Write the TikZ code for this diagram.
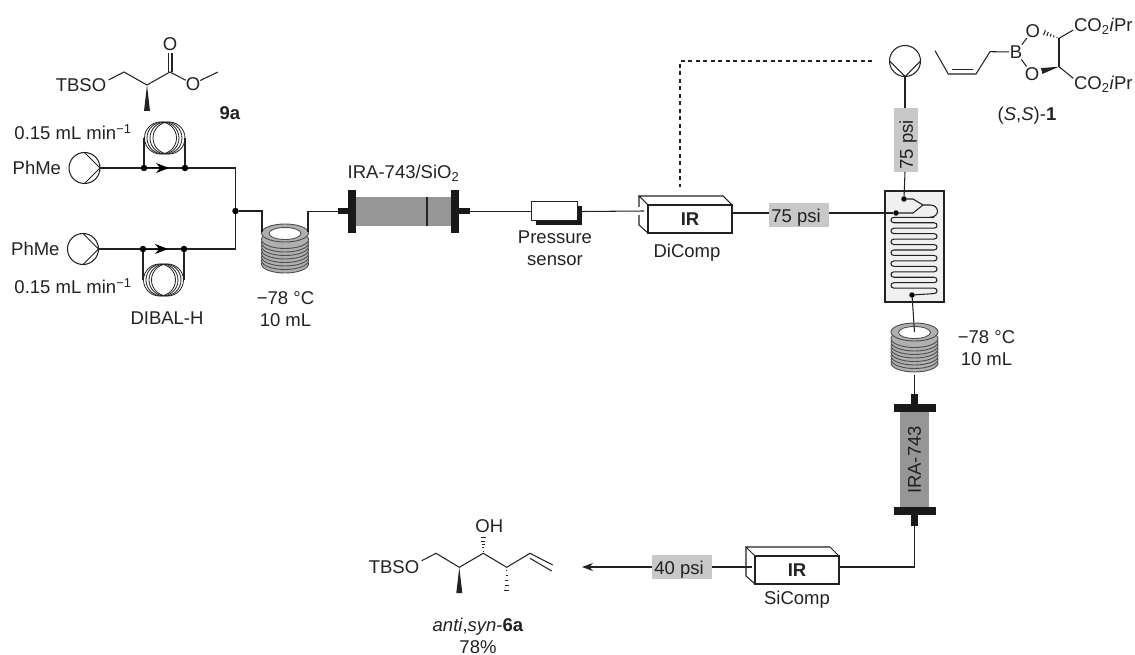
\documentclass[tikz,border=0pt]{standalone}
\usepackage{fontspec}
\setmainfont{Liberation Sans}
\usepackage{xcolor}
\usepackage{tikz}
\usetikzlibrary{positioning,arrows.meta,calc}

\definecolor{ink}{HTML}{222222}
\definecolor{bedgray}{HTML}{969696}
\definecolor{tagfill}{HTML}{C8C8C8}
\definecolor{ringgray}{HTML}{B0B0B0}
\definecolor{chipfill}{HTML}{F0F0F0}

\newcommand{\hashbond}[2]{%
  \foreach \t in {0.12,0.3,0.48,0.66,0.84,1}{%
    \draw[bond] ($(#1)!\t!(#2)!{\t*3.2pt}!90:(#2)$) -- ($(#1)!\t!(#2)!{\t*3.2pt}!-90:(#2)$);}}
\newcommand{\wedgebond}[2]{%
  \fill[ink] (#1) -- ($(#2)!3pt!90:(#1)$) -- ($(#2)!3pt!-90:(#1)$) -- cycle;}

\begin{document}
\begin{tikzpicture}[
  x=1pt, y=-1pt,
  every node/.style={text=ink, font=\fontsize{18.5}{22}\selectfont},
  wire/.style={draw=ink, line width=1.05pt},
  bond/.style={draw=ink, line width=1.05pt},
  lbl/.style={inner sep=0pt, outer sep=0pt, align=center},
  atom/.style={inner sep=1pt, outer sep=0pt},
  dot/.style={circle, fill=black, inner sep=0pt, minimum size=6.5pt},
  pump/.style={circle, draw=ink, line width=1.05pt, inner sep=0pt, outer sep=0pt, minimum size=31pt},
  tag/.style={fill=tagfill, inner sep=0pt, outer sep=0pt, minimum width=60pt, minimum height=24pt},
  bed/.style={fill=bedgray, inner sep=0pt, outer sep=0pt},
  flange/.style={fill=black!90, inner sep=0pt, outer sep=0pt},
  irbox/.style={draw=ink, line width=1.2pt, fill=white, inner sep=0pt, outer sep=0pt,
                minimum width=84pt, minimum height=28pt, font=\fontsize{18.5}{22}\selectfont\bfseries},
  arr/.style={-{Stealth[length=11pt,width=8pt]}},
  loaparr/.style={-{Stealth[length=13pt,width=10pt]}},
  ringstack/.pic={
    \foreach \k in {31,27.5,...,4}
      \draw[draw=ink!80, line width=.9pt, fill=ringgray] (0,\k) ellipse [x radius=23.5pt, y radius=9pt];
    \draw[draw=ink!80, line width=.9pt, fill=ringgray] (0,0) ellipse [x radius=23.5pt, y radius=9pt];
    \draw[draw=ink!80, line width=.9pt, fill=white] (0,0.5) ellipse [x radius=16pt, y radius=6pt];
  },
]
  \useasboundingbox (0,0) rectangle (1135,655);

  % pumps and loops on the left
  \node[pump] (pumpA) at (84.5,168) {};
  \node[pump] (pumpB) at (83,249) {};
  \draw[wire] (pumpA.north) -- (pumpA.east) -- (pumpA.south);
  \draw[wire] (pumpB.north) -- (pumpB.east) -- (pumpB.south);
  \node[lbl, left=8pt of pumpA] (solvA) {PhMe};
  \node[lbl, left=8pt of pumpB] (solvB) {PhMe};
  \node[lbl] (rateA) at (73,132) {0.15 mL min\textsuperscript{−1}};
  \node[lbl] (rateB) at (73,286) {0.15 mL min\textsuperscript{−1}};
  \node[lbl] (dibal) at (167,318) {DIBAL-H};

  \node[dot] (inA) at (144,168) {};
  \node[dot] (outA) at (185,168) {};
  \node[dot] (inB) at (143,249) {};
  \node[dot] (outB) at (184,249) {};
  \coordinate (midA) at (169,168);
  \coordinate (midB) at (168,249);
  \coordinate (bendA) at (235.5,168);
  \coordinate (bendB) at (235.5,249);
  \node[dot] (join) at (235.5,211) {};

  \foreach \cx in {160.5,163,166,169}
    \draw[wire, line width=.8pt] (\cx,138) circle [radius=16pt];
  \foreach \cx in {159.5,162,165,167.5}
    \draw[wire, line width=.8pt] (\cx,280) circle [radius=16pt];
  \draw[wire] (inA) -- (144,138);
  \draw[wire] (outA) -- (185,138);
  \draw[wire] (inB) -- (143,280);
  \draw[wire] (outB) -- (184,280);

  \draw[wire] (pumpA.east) -- (inA);
  \draw[wire] (pumpB.east) -- (inB);
  \draw[wire, line width=2.4pt] (inA) -- (outA);
  \draw[wire, line width=2.4pt] (inB) -- (outB);
  \draw[loaparr, draw=black, line width=1pt] (inA) -- (midA);
  \draw[loaparr, draw=black, line width=1pt] (inB) -- (midB);
  \draw[wire] (outA) -- (bendA) -- (join);
  \draw[wire] (outB) -- (bendB) -- (join);

  % first cold coil
  \pic at (285,233) {ringstack};
  \coordinate (coilAin) at (262,232);
  \coordinate (coilAout) at (308,232);
  \node[lbl] (coldA) at (285.5,309.5) {−78 °C\\10 mL};
  \draw[wire] (join) -| (coilAin);

  % first column
  \node[bed, minimum width=95pt, minimum height=29pt] (bedA) at (403.5,211.5) {};
  \node[flange, left=0pt of bedA, minimum width=8pt, minimum height=43pt] (flangeA) {};
  \node[flange, right=0pt of bedA, minimum width=8pt, minimum height=43pt] (flangeB) {};
  \node[flange, left=0pt of flangeA, minimum width=10pt, minimum height=6pt] (stubA) {};
  \node[flange, right=0pt of flangeB, minimum width=11pt, minimum height=6pt] (stubB) {};
  \draw[wire] (427,197) -- (427,226);
  \node[lbl] (bedAname) at (403.5,173) {IRA-743/SiO\textsubscript{2}};
  \draw[wire] (coilAout) |- (stubA);

  % pressure sensor
  \node[flange, minimum width=46pt, minimum height=19pt] (shade) at (559,216) {};
  \node[draw=ink, line width=1pt, fill=white, inner sep=0pt, outer sep=0pt,
        minimum width=46pt, minimum height=19pt] (sensor) at (554,211.5) {};
  \node[lbl, below=5pt of shade, xshift=-4pt] (sensorname) {Pressure\\sensor};
  \draw[wire] (stubB) -- (sensor);

  % inline IR cells
  \node[irbox] (irA) at (690,219) {IR};
  \node[irbox] (irB) at (797,570) {IR};
  \foreach \cell in {irA,irB}
    \draw[wire] (\cell.north west) -- ++(-9,-9) -- ++(84,0) -- (\cell.north east)
      (\cell.south west) -- ++(-9,-8) -- ++(0,-29);
  \node[lbl, below=11pt of irA, xshift=-3pt] (irAname) {DiComp};
  \node[lbl, below=7pt of irB] (irBname) {SiComp};
  \coordinate (irAleft) at (644,211);
  \coordinate (irAright) at (732,213);
  \coordinate (irBleft) at (752,567);
  \coordinate (irBright) at (839,567);
  \draw[draw=white, line width=8pt] (636,211) -- (642,211);
  \draw[wire] (shade.east |- sensor) -- (irAleft);

  % glass chip
  \node[draw=ink, line width=1.1pt, fill=chipfill, inner sep=0pt, outer sep=0pt,
        minimum width=59pt, minimum height=111pt] (chip) at (914.5,246.5) {};
  \node[dot, minimum size=5.5pt] (chipinA) at (904,199) {};
  \node[dot, minimum size=5.5pt] (chipinB) at (896,213) {};
  \node[dot, minimum size=5.5pt] (chipout) at (912,295) {};
  \coordinate (chipfork) at (923,205);
  \draw[wire] (chipinA) -- (913,199) -- (chipfork);
  \draw[wire] (chipinB) -- (913,213) -- (chipfork);
  \draw[wire] (chipfork) -- (930,205) .. controls (940,205) and (940,217.3) .. (930,217.3);
  \draw[wire] (930,217.3) -- (934,217.3);
  \foreach \i in {0,2,...,12}{
    \pgfmathsetmacro{\ya}{217.3+5.45*\i}
    \pgfmathsetmacro{\yb}{217.3+5.45*(\i+1)}
    \pgfmathsetmacro{\yc}{217.3+5.45*(\i+2)}
    \draw[wire] (934,\ya) -- (894,\ya) .. controls (890,\ya) and (890,\yb) .. (894,\yb)
      -- (934,\yb) .. controls (938,\yb) and (938,\yc) .. (934,\yc);
  }
  \draw[wire] (934,293.6) -- (chipout);

  % third pump and feeds to the chip
  \node[pump] (pumpC) at (905,61) {};
  \draw[wire] (pumpC.west) -- (pumpC.south) -- (pumpC.east);
  \node[tag, minimum width=24pt, minimum height=64pt] (tagtop) at (906,140) {};
  \node[rotate=90, inner sep=0pt] (tagtoptext) at (908,145) {75 psi};
  \node[tag] (tagmid) at (799,215) {};
  \node[lbl] (tagmidtext) at (796,218) {75 psi};
  \draw[wire] (pumpC.south) -- (tagtop.north -| pumpC);
  \draw[wire] (tagtop.south -| pumpC) -- (chipinA);
  \draw[wire] (irAright) -- (tagmid.west |- irAright);
  \draw[wire] (tagmid.east |- chipinB) -- (chipinB);
  \coordinate (ctrlfrom) at (872,61);
  \coordinate (ctrlto) at (680,187);
  \draw[wire, dash pattern=on 4pt off 3.5pt] (ctrlfrom) -| (ctrlto);

  % second cold coil and second column
  \pic at (914.5,332) {ringstack};
  \coordinate (coilBin) at (914.5,332);
  \coordinate (coilBout) at (914.5,375);
  \draw[wire] (chipout) -- (coilBin);
  \node[lbl] (coldB) at (986.5,348) {−78 °C\\10 mL};
  \node[bed, minimum width=29pt, minimum height=95pt] (bedB) at (914.5,459.5) {};
  \node[flange, above=0pt of bedB, minimum width=42pt, minimum height=8pt] (flangeC) {};
  \node[flange, below=0pt of bedB, minimum width=42pt, minimum height=8pt] (flangeD) {};
  \node[flange, above=0pt of flangeC, minimum width=7pt, minimum height=10pt] (stubC) {};
  \node[flange, below=0pt of flangeD, minimum width=7pt, minimum height=11pt] (stubD) {};
  \node[rotate=90, inner sep=0pt] (bedBname) at (914.5,460) {IRA-743};
  \draw[wire] (coilBout) -- (stubC);
  \draw[wire] (stubD) |- (irBright);

  % outlet
  \node[tag] (tagout) at (682,567) {};
  \node[lbl] (tagouttext) at (679,570) {40 psi};
  \coordinate (outlet) at (582,567);
  \draw[wire] (irBleft) -- (tagout);
  \draw[wire, arr] (tagout) -- (outlet);

  % 9a
  \node[lbl] (sm) at (81,85) {TBSO};
  \coordinate (smA) at (108.5,80);
  \coordinate (smB) at (124,72);
  \coordinate (smC) at (147,85);
  \coordinate (smD) at (170,72);
  \coordinate (smE) at (147,111);
  \coordinate (smF) at (218,72);
  \node[lbl] (smO) at (170,44) {O};
  \node[lbl] (smOb) at (193,84) {O};
  \node[lbl, font=\fontsize{18.5}{22}\selectfont\bfseries] (smname) at (230,113) {9a};
  \draw[bond] (smA) -- (smB) -- (smC) -- (smD) -- (smOb) -- (smF);
  \draw[bond] (168.5,72) -- (168.5,53);
  \draw[bond] (172,72) -- (172,53);
  \wedgebond{smC}{smE}

  % (S,S)-1
  \coordinate (boA) at (935,50.7);
  \coordinate (boB) at (948.3,74);
  \coordinate (boC) at (976,74);
  \coordinate (boD) at (990,51.7);
  \coordinate (boUp) at (1059,38.3);
  \coordinate (boLow) at (1059,66.7);
  \node[atom] (boron) at (1016,52) {B};
  \node[atom] (oxUp) at (1032.7,30.7) {O};
  \node[atom] (oxLow) at (1032,74) {O};
  \node[lbl] (esterUp) at (1103.3,26) {CO\textsubscript{2}\textit{i}Pr};
  \node[lbl] (esterLow) at (1103.3,84) {CO\textsubscript{2}\textit{i}Pr};
  \node[lbl] (boname) at (1027,116) {(\textit{S},\textit{S})-\textbf{1}};
  \draw[bond] (boA) -- (boB) -- (boC) -- (boD) -- (boron);
  \draw[bond] (951.7,69.3) -- (973.3,69.3);
  \draw[bond] (boron) -- (oxUp);
  \draw[bond] (boron) -- (oxLow);
  \draw[bond] (boUp) -- (boLow);
  \draw[bond] (boUp) -- (1073.3,30);
  \draw[bond] (boLow) -- (1073.3,78.3);
  \coordinate (oxUpEnd) at (1041.7,31.7);
  \coordinate (oxLowEnd) at (1041.7,71);
  \hashbond{boUp}{oxUpEnd}
  \wedgebond{boLow}{oxLowEnd}

  % anti,syn-6a
  \node[lbl] (prod) at (394,567) {TBSO};
  \coordinate (prA) at (421.7,560.7);
  \coordinate (prB) at (436,553.3);
  \coordinate (prC) at (459.3,567.3);
  \coordinate (prD) at (483.3,553.3);
  \coordinate (prE) at (506.7,567.3);
  \coordinate (prF) at (530,553.3);
  \coordinate (prG) at (459.3,593);
  \coordinate (prH) at (483.3,535);
  \coordinate (prJ) at (506.7,595);
  \node[lbl] (prOH) at (489.3,526) {OH};
  \draw[bond] (prA) -- (prB) -- (prC) -- (prD) -- (prE) -- (prF) -- (552.7,565);
  \draw[bond] (530,558.3) -- (551.7,571);
  \wedgebond{prC}{prG}
  \hashbond{prD}{prH}
  \hashbond{prE}{prJ}
  \node[lbl] (prname) at (478,635.5) {\textit{anti},\textit{syn}-\textbf{6a}\\78\%};
\end{tikzpicture}
\end{document}
